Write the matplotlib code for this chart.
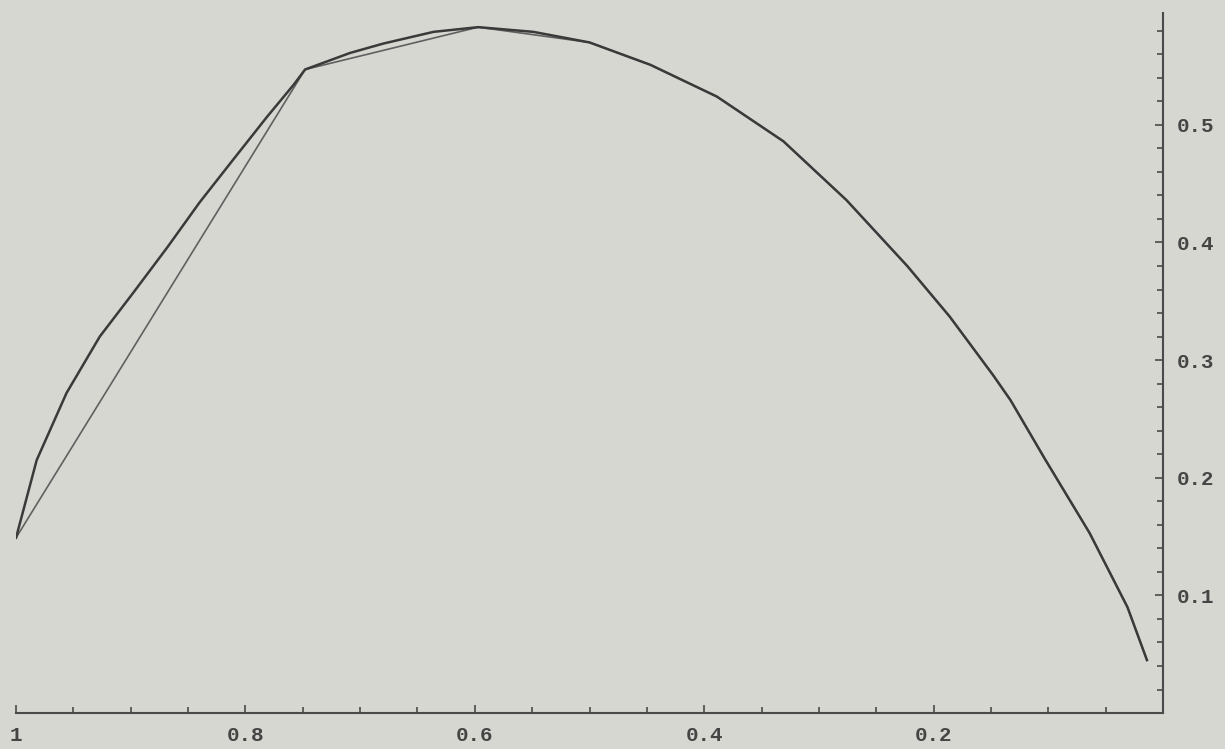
import numpy as np
import matplotlib.pyplot as plt

# smooth curve (x runs from 1 down to 0)
curve_x = [1.0, 0.982, 0.956, 0.927, 0.898, 0.868, 0.840, 0.811, 0.781, 0.758,
           0.748, 0.709, 0.680, 0.636, 0.597, 0.549, 0.500, 0.447, 0.389, 0.331,
           0.276, 0.223, 0.186, 0.148, 0.133, 0.103, 0.064, 0.031, 0.014]
curve_y = [0.149, 0.215, 0.272, 0.320, 0.357, 0.396, 0.434, 0.470, 0.507, 0.534,
           0.547, 0.561, 0.569, 0.579, 0.583, 0.579, 0.570, 0.551, 0.524, 0.486,
           0.436, 0.380, 0.337, 0.287, 0.266, 0.216, 0.153, 0.090, 0.045]

# polygonal approximation
poly_x = [1.0, 0.748, 0.597, 0.500, 0.447, 0.389, 0.331, 0.276, 0.223, 0.186,
          0.148, 0.133, 0.103, 0.064, 0.031, 0.014]
poly_y = [0.149, 0.547, 0.583, 0.570, 0.551, 0.524, 0.486, 0.436, 0.380, 0.337,
          0.287, 0.266, 0.216, 0.153, 0.090, 0.045]

xticks = [1.0, 0.8, 0.6, 0.4, 0.2]
xtick_labels = ['1', '0.8', '0.6', '0.4', '0.2']
yticks = [0.1, 0.2, 0.3, 0.4, 0.5]
ytick_labels = ['0.1', '0.2', '0.3', '0.4', '0.5']

bg = '#d6d7d1'
ink = '#4a4a4a'

fig = plt.figure(figsize=(12.25, 7.49), dpi=100, facecolor=bg)
ax = fig.add_axes([0.0131, 0.048, 0.9363, 0.9346], facecolor=bg)

ax.plot(poly_x, poly_y, color='#606060', lw=1.2)
ax.plot(curve_x, curve_y, color='#3a3a3a', lw=1.8, solid_joinstyle='round')

ax.set_xlim(1.0, 0.0)
ax.set_ylim(0.0, 0.595)

for s in ['top', 'left']:
    ax.spines[s].set_visible(False)
for s in ['bottom', 'right']:
    ax.spines[s].set_color(ink)
    ax.spines[s].set_linewidth(1.5)

ax.yaxis.tick_right()
ax.set_xticks(xticks)
ax.set_xticklabels(xtick_labels)
ax.set_xticks(np.arange(0.05, 1.0, 0.05), minor=True)
ax.set_yticks(yticks)
ax.set_yticklabels(ytick_labels)
ax.set_yticks(np.arange(0.02, 0.59, 0.02), minor=True)

ax.tick_params(which='both', direction='in', color=ink, width=1.2)
ax.tick_params(which='major', length=6)
ax.tick_params(which='minor', length=4)
ax.tick_params(axis='x', which='major', pad=9)
ax.tick_params(axis='y', which='major', pad=10)
for lab in ax.get_xticklabels() + ax.get_yticklabels():
    lab.set_fontfamily('Liberation Mono')
    lab.set_fontsize(15)
    lab.set_fontweight('bold')
    lab.set_color('#454545')

fig.savefig('out.png', dpi=100, facecolor=bg)
